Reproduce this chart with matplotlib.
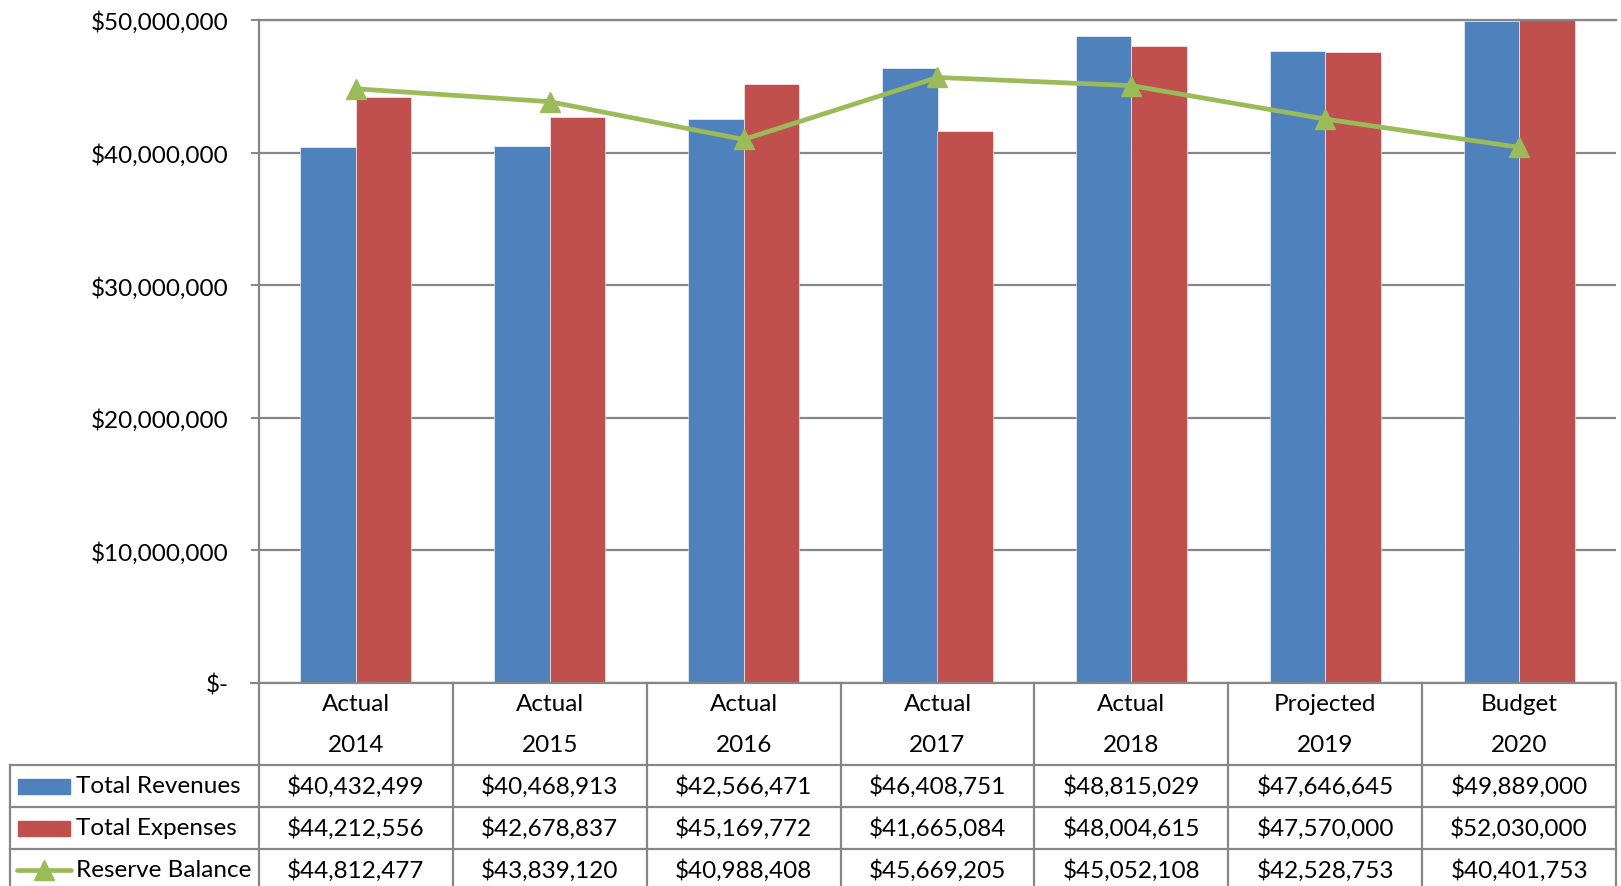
import matplotlib
matplotlib.use("Agg")
import matplotlib.pyplot as plt
import matplotlib.transforms as mtransforms
from matplotlib.patches import Rectangle
from matplotlib.lines import Line2D
import numpy as np

plt.rcParams['font.family'] = ['Lato', 'DejaVu Sans']

status = ['Actual', 'Actual', 'Actual', 'Actual', 'Actual', 'Projected', 'Budget']
years = ['2014', '2015', '2016', '2017', '2018', '2019', '2020']
revenues = [40432499, 40468913, 42566471, 46408751, 48815029, 47646645, 49889000]
expenses = [44212556, 42678837, 45169772, 41665084, 48004615, 47570000, 52030000]
reserve = [44812477, 43839120, 40988408, 45669205, 45052108, 42528753, 40401753]

blue = '#4F81BD'
red = '#C0504D'
green = '#9BBB59'
grid_c = '#868686'
fs = 17.5

W, H = 1621, 887
fig = plt.figure(figsize=(W / 100, H / 100), dpi=100)


def fy(p):
    return 1 - p / H


def fx(p):
    return p / W


ax_l, ax_r, ax_t, ax_b = 259, 1616, 21, 684
ax = fig.add_axes([fx(ax_l), fy(ax_b), fx(ax_r - ax_l), (ax_b - ax_t) / H])

x = np.arange(len(years))
bw = 0.286
ax.bar(x - bw / 2, revenues, bw, color=blue, edgecolor='white', linewidth=0.4, zorder=2)
ax.bar(x + bw / 2, expenses, bw, color=red, edgecolor='white', linewidth=0.4, zorder=2)
ax.plot(x, reserve, color=green, lw=3.4, marker='^', ms=15, zorder=3)

ax.set_xlim(-0.5, len(years) - 0.5)
ax.set_ylim(0, 50e6)
ax.set_yticks(np.arange(0, 50e6 + 1, 10e6))
ax.set_yticklabels(['$-'] + ['${:,.0f}'.format(v) for v in np.arange(10e6, 50e6 + 1, 10e6)],
                   fontsize=fs)
ax.tick_params(axis='y', length=6, width=1.4, color=grid_c, pad=16)
ax.set_xticks([])
ax.yaxis.grid(True, color=grid_c, lw=1.6, zorder=0)
ax.set_axisbelow(True)
for s in ['right', 'bottom']:
    ax.spines[s].set_visible(False)
ax.spines['left'].set_color(grid_c)
ax.spines['left'].set_linewidth(1.6)
ax.spines['top'].set_color(grid_c)
ax.spines['top'].set_linewidth(1.6)

# data table below the plot
tr = mtransforms.blended_transform_factory(ax.transData, fig.transFigure)
line_kw = dict(color=grid_c, lw=1.6, transform=fig.transFigure, clip_on=False)

# x axis line
fig.add_artist(Line2D([fx(251), fx(ax_r)], [fy(ax_b), fy(ax_b)], **line_kw))

rows_top = [766, 808, 850]
row_h = 42
for yy in rows_top:
    fig.add_artist(Line2D([fx(10), fx(ax_r)], [fy(yy), fy(yy)], **line_kw))
fig.add_artist(Line2D([fx(10), fx(10)], [fy(766), fy(H)], **line_kw))

edges = np.arange(len(years) + 1) - 0.5
for e in edges:
    fig.add_artist(Line2D([e, e], [fy(ax_b), fy(H)], color=grid_c, lw=1.6,
                          transform=tr, clip_on=False))

for i in range(len(years)):
    fig.text(x[i], fy(705), status[i], transform=tr, ha='center', va='center', fontsize=fs)
    fig.text(x[i], fy(745), years[i], transform=tr, ha='center', va='center', fontsize=fs)
    for j, series in enumerate([revenues, expenses, reserve]):
        yc = rows_top[j] + row_h / 2
        fig.text(x[i], fy(yc), '${:,.0f}'.format(series[i]), transform=tr,
                 ha='center', va='center', fontsize=fs)

labels = ['Total Revenues', 'Total Expenses', 'Reserve Balance']
for j, lab in enumerate(labels):
    yc = rows_top[j] + row_h / 2
    fig.text(fx(76), fy(yc), lab, ha='left', va='center', fontsize=fs)
    if j < 2:
        fig.add_artist(Rectangle((fx(18), fy(yc + 7.5)), fx(52), 15 / H,
                                 color=[blue, red][j], transform=fig.transFigure))
    else:
        fig.add_artist(Line2D([fx(17), fx(71)], [fy(yc), fy(yc)], color=green, lw=3.4,
                              solid_capstyle='round', transform=fig.transFigure))
        fig.add_artist(Line2D([fx(44)], [fy(yc)], color=green, marker='^', ms=15,
                              transform=fig.transFigure))

fig.savefig('out.png', dpi=100)
